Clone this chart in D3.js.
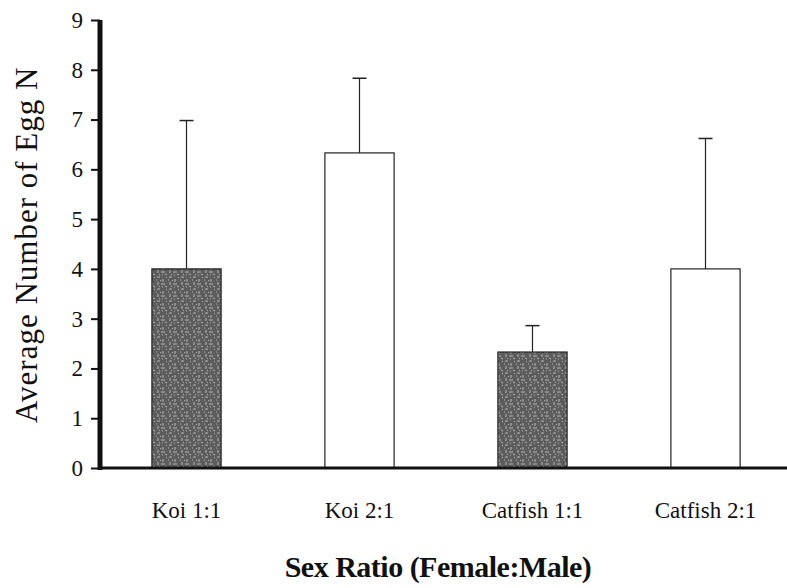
<!DOCTYPE html>
<html>
<head>
<meta charset="utf-8">
<script src="https://cdn.jsdelivr.net/npm/d3@7"></script>
<style>
  body { margin: 0; background: #fff; }
  svg text { font-family: "Liberation Serif", "DejaVu Serif", serif; fill: #111; }
</style>
</head>
<body>
<div id="chart"></div>
<script>
// data
var categories = ["Koi 1:1", "Koi 2:1", "Catfish 1:1", "Catfish 2:1"];
var means = [4.0, 6.33, 2.33, 4.0];
var errors = [2.98, 1.5, 0.53, 2.62];
var shaded = [true, false, true, false];
var yTicks = [0, 1, 2, 3, 4, 5, 6, 7, 8, 9];

var W = 787, H = 588;
var margin = {left: 100, right: -5, top: 20, bottom: 120};

var svg = d3.select("#chart").append("svg")
    .attr("width", W)
    .attr("height", H);

// speckled grey fill for the 1:1 bars
var defs = svg.append("defs");
var pat = defs.append("pattern")
    .attr("id", "speckle")
    .attr("patternUnits", "userSpaceOnUse")
    .attr("width", 12)
    .attr("height", 12);
pat.append("rect").attr("width", 12).attr("height", 12).attr("fill", "#5c5c5c");
var dashes = [[1,1,4,1],[7,3,7,6],[2,6,2,9],[5,8,9,8],[9,10,11,11],[0,4,1,4],[4,4,5,5],[10,1,11,2],[6,11,7,11],[3,10,4,11]];
dashes.forEach(function(d){
    pat.append("line")
        .attr("x1", d[0]).attr("y1", d[1]).attr("x2", d[2]).attr("y2", d[3])
        .attr("stroke", "#b8b8b8").attr("stroke-width", 1);
});

var x = d3.scaleBand()
    .domain(categories)
    .range([margin.left, W - margin.right])
    .paddingInner(0.6)
    .paddingOuter(0.3);

var y = d3.scaleLinear()
    .domain([0, 9])
    .range([H - margin.bottom, margin.top]);

// bars
svg.selectAll("rect.bar")
    .data(categories)
    .enter()
    .append("rect")
    .attr("class", "bar")
    .attr("x", function(d){ return x(d); })
    .attr("width", x.bandwidth())
    .attr("y", function(d, i){ return y(means[i]); })
    .attr("height", function(d, i){ return y(0) - y(means[i]); })
    .attr("fill", function(d, i){ return shaded[i] ? "url(#speckle)" : "#fff"; })
    .attr("stroke", "#222")
    .attr("stroke-width", 1.2);

// error bars, upward only
var eb = svg.selectAll("g.err")
    .data(categories)
    .enter()
    .append("g")
    .attr("class", "err");
eb.append("line")
    .attr("x1", function(d){ return x(d) + x.bandwidth()/2; })
    .attr("x2", function(d){ return x(d) + x.bandwidth()/2; })
    .attr("y1", function(d, i){ return y(means[i]); })
    .attr("y2", function(d, i){ return y(means[i] + errors[i]); })
    .attr("stroke", "#222")
    .attr("stroke-width", 1.2);
eb.append("line")
    .attr("x1", function(d){ return x(d) + x.bandwidth()/2 - 7; })
    .attr("x2", function(d){ return x(d) + x.bandwidth()/2 + 7; })
    .attr("y1", function(d, i){ return y(means[i] + errors[i]); })
    .attr("y2", function(d, i){ return y(means[i] + errors[i]); })
    .attr("stroke", "#222")
    .attr("stroke-width", 1.5);

// y axis
var yAxis = svg.append("g")
    .attr("transform", "translate(" + margin.left + ",0)")
    .call(d3.axisLeft(y).tickValues(yTicks).tickSize(9).tickPadding(8));
yAxis.select(".domain").remove();
yAxis.selectAll(".tick line").attr("stroke", "#111").attr("stroke-width", 2);
yAxis.selectAll(".tick text")
    .style("font-size", "23px")
    .attr("fill", "#111");
svg.append("line")
    .attr("x1", margin.left).attr("x2", margin.left)
    .attr("y1", y(9)).attr("y2", y(0) + 2)
    .attr("stroke", "#111")
    .attr("stroke-width", 5);

// x axis
var xAxis = svg.append("g")
    .attr("transform", "translate(0," + y(0) + ")")
    .call(d3.axisBottom(x).tickSize(0).tickPadding(34));
xAxis.select(".domain").remove();
xAxis.selectAll(".tick text")
    .style("font-size", "23px")
    .attr("fill", "#111");
svg.append("line")
    .attr("x1", margin.left - 2).attr("x2", W)
    .attr("y1", y(0)).attr("y2", y(0))
    .attr("stroke", "#111")
    .attr("stroke-width", 3);

// titles
svg.append("text")
    .attr("x", 438)
    .attr("y", 577)
    .attr("text-anchor", "middle")
    .style("font-size", "30px")
    .style("font-weight", "bold")
    .style("letter-spacing", "-0.5px")
    .text("Sex Ratio (Female:Male)");

svg.append("text")
    .attr("transform", "translate(37,423) rotate(-90)")
    .attr("text-anchor", "start")
    .style("font-size", "31px")
    .style("letter-spacing", "1px")
    .text("Average Number of Egg N");
</script>
</body>
</html>
